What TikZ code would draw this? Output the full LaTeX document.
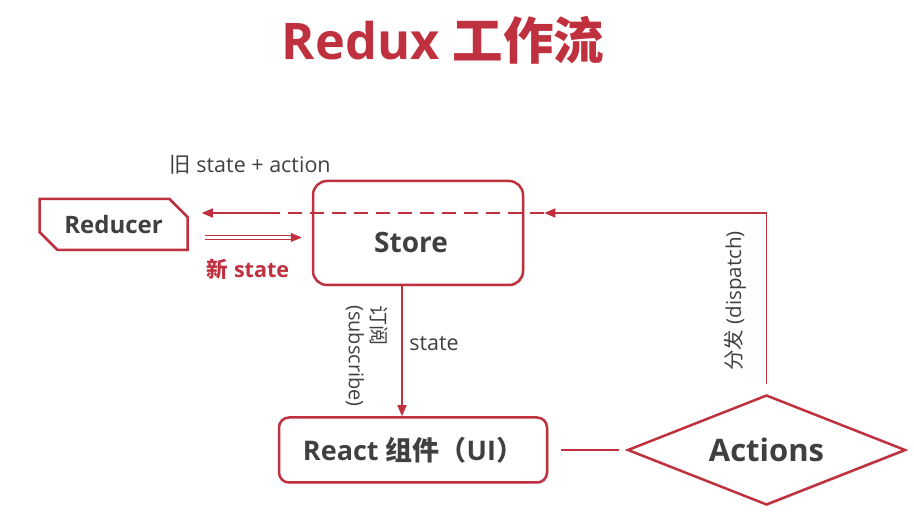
\documentclass[tikz,border=0pt]{standalone}
\usepackage{fontspec}
\setmainfont{Open Sans}
\newfontfamily\cjk{Noto Sans CJK SC}
\usetikzlibrary{arrows.meta,positioning,shapes.geometric,shapes.misc,shadows}
\definecolor{rxred}{RGB}{192,49,63}
\definecolor{ink}{RGB}{64,64,64}
\newcommand{\zh}[1]{{\cjk #1}}
\newcommand{\fsz}[1]{\fontsize{#1}{1.15\dimexpr#1\relax}\selectfont}

\begin{document}
\begin{tikzpicture}[x=1pt, y=-1pt,
  box/.style={draw=rxred, line width=2.5pt, fill=white, text=ink, inner sep=0pt,
    drop shadow={shadow xshift=1.5pt, shadow yshift=-1.5pt, opacity=.25}},
  lbl/.style={text=ink, font=\fsz{21.5pt}},
  link/.style={draw=rxred, line width=1.6pt},
  arr/.style={link, -{Triangle[length=11pt, width=9pt]}}]
  \useasboundingbox (0,0) rectangle (914,518);
  \node[text=rxred, font=\fsz{50.5pt}\bfseries] (title) at (443,40) {Redux \zh{工作流}};
  \node[box, rounded corners=14pt, minimum width=210pt, minimum height=104pt, font=\fsz{28pt}\bfseries] (store) at (418,233)
    {\hspace*{-14pt}\raisebox{-10pt}[\height][\depth]{Store}};
  \node[box, chamfered rectangle, chamfered rectangle corners={north east,south west}, chamfered rectangle sep=9pt,
    minimum width=148pt, minimum height=51pt, font=\fsz{24pt}\bfseries, left=123pt of store, yshift=8.5pt] (reducer) {Reducer};
  \node[box, rounded corners=10pt, minimum width=268pt, minimum height=65pt, font=\fsz{27pt}\bfseries,
    below=130pt of store, xshift=-5pt] (react) {React \zh{组件（}UI\zh{）}};
  \node[box, diamond, aspect=2.53, minimum width=278pt, minimum height=110pt, font=\fsz{31pt}\bfseries,
    right=78pt of react] (actions) {Actions};
  \coordinate[above right=20pt and 20pt of store.east] (in);
  \coordinate (out) at ([xshift=-45pt]store.west |- in);
  % labels
  \node[lbl] (old) at (250,165) {\zh{旧} state + action};
  \node[lbl, text=rxred, font=\fsz{21.5pt}\bfseries] (new) at (248,269) {\zh{新} state};
  \node[lbl] (st) at (434,344) {state};
  \node[lbl, rotate=-90, align=left, font=\fontsize{20pt}{23pt}\selectfont] (sub) at (367,356) {\zh{订阅}\\(subscribe)};
  \node[lbl, rotate=90, font=\fsz{20.5pt}] (disp) at (735,301) {\zh{分发} (dispatch)};
  % connectors
  \draw[arr, shorten <=10pt] (actions.north) |- (in);
  \draw[link, dash pattern=on 14pt off 8pt] (in) -- (out);
  \draw[arr, shorten >=13pt] (out) -- (reducer.east |- out);
  \draw[arr, line width=.8pt, double=white, double distance=2.5pt, shorten >=10pt]
    ([xshift=16pt, yshift=-13pt]reducer.east) coordinate (s) -- (s -| store.west);
  \draw[arr] ([xshift=-16pt]store.south) -- ([xshift=-11pt]react.north);
  \draw[link, shorten <=13pt, shorten >=7pt] (react.east) -- (actions.west);
\end{tikzpicture}
\end{document}
